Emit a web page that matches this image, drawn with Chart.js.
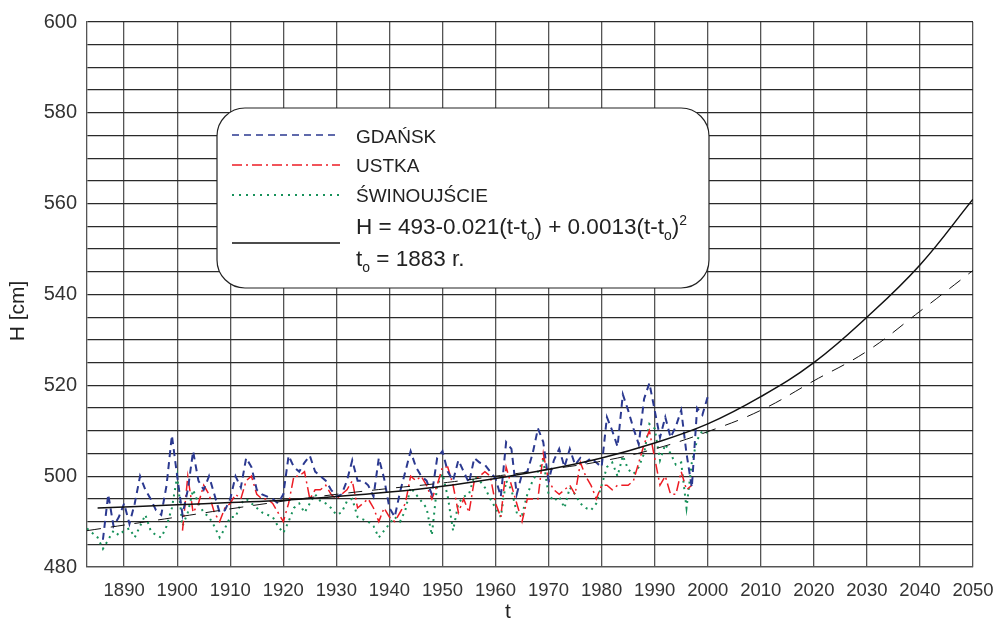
<!DOCTYPE html>
<html>
<head>
<meta charset="utf-8">
<script src="https://cdn.jsdelivr.net/npm/chart.js@4.4.0/dist/chart.umd.min.js"></script>
<style>
  html, body { margin: 0; padding: 0; background: #fff; }
  #wrap { width: 994px; height: 621px; }
</style>
</head>
<body>
<div id="wrap"><canvas id="chart" width="994" height="621"></canvas></div>
<script>
// Annual mean sea level [cm]
const gdanskStart = 1886;
const gdansk = [
    486, 496, 489, 491, 494, 489.5, 494, 500, 497, 495,          // 1886-1895
    492.5, 491.5, 498, 509, 500, 491.5, 497, 505.5, 499, 497,    // 1896-1905
    500, 496, 492, 492.5, 495, 500, 497.5, 504, 502, 497,        // 1906-1915
    496, 495.5, 495, 494, 496, 504.5, 502, 501, 503, 504.5,      // 1916-1925
    501, 500, 499, 497, 495.5, 496, 499, 503.5, 499, 499,        // 1926-1935
    498, 495.5, 504, 499.5, 493, 491, 496.5, 501, 505.5, 502,    // 1936-1945
    500, 499, 496, 504, 505.5, 501, 499, 503.5, 501, 498.5,      // 1946-1955
    504, 503, 502.5, 501, 499.5, 495.5, 507.5, 506, 496, 500.5,  // 1956-1965
    501, 505, 510.5, 507.5, 499, 503.5, 506, 502, 506, 502.5,    // 1966-1975
    504, 503, 504, 503, 502, 513, 510, 506.5, 518, 514.5,        // 1976-1985
    510.5, 507, 517, 520.5, 514.5, 508.5, 513, 508.5, 511, 514.5, // 1986-1995
    505, 497.5, 515, 513.5, 517.5                                // 1996-2000
];

const ustkaStart = 1901;
const ustka = [
    488, 500, 492, 494, 498, 496, 492, 490, 493, 494,            // 1901-1910
    496, 495, 499, 500, 496, 495, 495, 494, 492, 490,            // 1911-1920
    494, 500, 500, 501, 495, 497, 497, 498, 496, 495,            // 1921-1930
    496, 497, 499, 493, 494, 495, 493, 490, 493, 491,            // 1931-1940
    490, 492, 494, 500, 499, 500, 498, 495, 498, 502,            // 1941-1950
    502, 498, 492, 495, 492, 499, 500, 501, 500, 494,            // 1951-1960
    491, 502, 498, 494, 490, 495, 495, 495, 505, 499,            // 1961-1970
    497, 496, 497, 498, 496, 503, 500, 498, 495, 498,            // 1971-1980
    498, 497, 498, 498, 498, 499, 503, 507, 510, 504,            // 1981-1990
    498, 500, 496, 496, 501, 497, 498                            // 1991-1997
];

const swinStart = 1883;
const swinoujscie = [
    488.5, 487.5, 486.5, 484, 486, 488, 487, 488,                // 1883-1890
    488.5, 486.5, 489, 491.5, 488, 487, 486.5, 489, 493, 500,    // 1891-1900
    489, 492, 497, 494, 492, 491, 489, 486.5, 488.5, 491,        // 1901-1910
    491, 494, 495, 494, 493, 492, 491.5, 491, 489, 487.5,        // 1911-1920
    490, 493, 494, 492, 494, 496, 494.5, 494, 493, 491.5,        // 1921-1930
    492, 494.5, 495, 491, 490.5, 490, 489, 486.5, 488, 489.5,    // 1931-1940
    491, 490, 492.5, 497.5, 496, 494.5, 493, 487, 498, 500.5,    // 1941-1950
    495.5, 488, 494, 495.5, 496, 500, 499, 497.5, 495, 493,      // 1951-1960
    491, 499, 497, 492, 491.5, 496, 499, 501, 503.5, 496,        // 1961-1970
    494.5, 495.5, 493, 497.5, 496, 494, 493, 492.5, 494, 498,    // 1971-1980
    502, 503, 500, 504.5, 501.5, 500.5, 502, 505, 511.5, 510.5,  // 1981-1990
    503.5, 507, 505, 502.5, 503, 493, 503, 508, 510, 509.5       // 1991-2000
];

// fitted parabola and second trend
const fitYears  = [1885, 1900, 1910, 1920, 1930, 1940, 1950, 1960, 1970, 1980, 1990, 2000, 2010, 2020, 2030, 2040, 2050];
const fitValues = [493.0, 493.7, 494.2, 494.7, 495.5, 496.5, 497.8, 499.5, 501.5, 504.0, 507.3, 511.5, 517.5, 525.0, 535.0, 546.5, 561.0];
const trendYears  = [1883, 1900, 1910, 1920, 1930, 1940, 1950, 1960, 1970, 1980, 1990, 2000, 2010, 2020, 2030, 2040, 2050];
const trendValues = [488.0, 491.0, 492.8, 494.5, 496.0, 497.3, 498.5, 500.0, 501.5, 503.3, 506.0, 509.8, 514.5, 521.0, 527.5, 536.3, 545.3];

const xTicks = [1890, 1900, 1910, 1920, 1930, 1940, 1950, 1960, 1970, 1980, 1990, 2000, 2010, 2020, 2030, 2040, 2050];

const FONT = '"Liberation Sans", Arial, sans-serif';
const BLUE = '#2b3990';
const RED = '#ed1c24';
const GREEN = '#17915a';

function toPoints(start, values) {
    return values.map((v, i) => ({ x: start + i, y: v }));
}
function pairPoints(xs, ys) {
    return xs.map((x, i) => ({ x: x, y: ys[i] }));
}

// draw text runs with sub/superscripts
function drawRuns(ctx, runs, x, y, size) {
    runs.forEach(r => {
        const s = r.sub || r.sup ? size * 0.62 : size;
        ctx.font = s + 'px ' + FONT;
        const dy = r.sub ? size * 0.28 : (r.sup ? -size * 0.38 : 0);
        ctx.fillText(r.t, x, y + dy);
        x += ctx.measureText(r.t).width;
    });
}

function sampleLine(ctx, y, color, dash, width) {
    ctx.beginPath();
    ctx.setLineDash(dash);
    ctx.strokeStyle = color;
    ctx.lineWidth = width;
    ctx.moveTo(232, y);
    ctx.lineTo(340, y);
    ctx.stroke();
}

// rounded legend box plus axis titles
const legendBox = {
    id: 'legendBox',
    afterDatasetsDraw(chart) {
        const ctx = chart.ctx;
        ctx.save();
        ctx.beginPath();
        ctx.roundRect(217, 108, 492, 180, 28);
        ctx.fillStyle = '#fff';
        ctx.fill();
        ctx.lineWidth = 1.2;
        ctx.strokeStyle = '#222';
        ctx.stroke();

        sampleLine(ctx, 135, BLUE, [7, 5], 1.6);
        sampleLine(ctx, 165, RED, [10, 4, 2, 4], 1.4);
        sampleLine(ctx, 195, GREEN, [2, 5], 1.8);
        sampleLine(ctx, 243, '#111', [], 1.5);
        ctx.setLineDash([]);

        ctx.fillStyle = '#222';
        ctx.textBaseline = 'alphabetic';
        ctx.textAlign = 'left';
        ctx.font = '19px ' + FONT;
        ctx.fillText('GDAŃSK', 356, 143);
        ctx.fillText('USTKA', 356, 172);
        ctx.fillText('ŚWINOUJŚCIE', 356, 202);
        drawRuns(ctx, [
            { t: 'H = 493-0.021(t-t' }, { t: 'o', sub: true },
            { t: ') + 0.0013(t-t' }, { t: 'o', sub: true },
            { t: ')' }, { t: '2', sup: true }
        ], 356, 234, 22.5);
        drawRuns(ctx, [
            { t: 't' }, { t: 'o', sub: true }, { t: ' = 1883 r.' }
        ], 356, 266, 22.5);

        // axis titles
        ctx.fillStyle = '#222';
        ctx.font = '21px ' + FONT;
        ctx.textAlign = 'center';
        ctx.textBaseline = 'middle';
        ctx.fillText('t', 508, 612);
        ctx.translate(18, 311);
        ctx.rotate(-Math.PI / 2);
        ctx.fillText('H [cm]', 0, 0);
        ctx.restore();
    }
};

const ctx = document.getElementById('chart').getContext('2d');
new Chart(ctx, {
    type: 'line',
    data: {
        datasets: [
            {
                label: 'fit', data: pairPoints(fitYears, fitValues), order: 0,
                borderColor: '#111', borderWidth: 1.5, tension: 0.4
            },
            {
                label: 'trend', data: pairPoints(trendYears, trendValues), order: 1,
                borderColor: '#111', borderWidth: 1, borderDash: [14, 10], tension: 0.4
            },
            {
                label: 'GDAŃSK', data: toPoints(gdanskStart, gdansk), order: 2,
                borderColor: BLUE, borderWidth: 2, borderDash: [7, 5]
            },
            {
                label: 'USTKA', data: toPoints(ustkaStart, ustka), order: 3,
                borderColor: RED, borderWidth: 1.5, borderDash: [10, 4, 2, 4]
            },
            {
                label: 'ŚWINOUJŚCIE', data: toPoints(swinStart, swinoujscie), order: 4,
                borderColor: GREEN, borderWidth: 2, borderDash: [2, 4.5]
            }
        ]
    },
    options: {
        responsive: false,
        animation: false,
        events: [],
        layout: { padding: { top: 19, right: 21, left: 0, bottom: 0 } },
        elements: { point: { radius: 0 }, line: { tension: 0, fill: false } },
        plugins: { legend: { display: false }, tooltip: { enabled: false } },
        scales: {
            x: {
                type: 'linear', min: 1883, max: 2050,
                afterBuildTicks: scale => { scale.ticks = xTicks.map(v => ({ value: v })); },
                afterFit: scale => {
                    scale.height = 54;
                    scale.paddingLeft = 0;
                    scale.paddingRight = 0;
                },
                grid: { color: '#555', lineWidth: 1.3, drawTicks: false },
                border: { display: true, color: '#555', width: 1.3 },
                ticks: {
                    padding: 13, color: '#333', maxRotation: 0, autoSkip: false,
                    font: { size: 18.5, family: FONT },
                    callback: v => String(v)
                }
            },
            y: {
                min: 480, max: 600,
                afterFit: scale => { scale.width = 87; },
                grid: { color: '#2a2a2a', lineWidth: 1.3, drawTicks: false },
                border: { display: true, color: '#555', width: 1.3 },
                ticks: {
                    stepSize: 5, padding: 10, color: '#333', autoSkip: false,
                    font: { size: 20, family: FONT },
                    callback: v => (v % 20 === 0 ? String(v) : '')
                }
            }
        }
    },
    plugins: [legendBox]
});
</script>
</body>
</html>
